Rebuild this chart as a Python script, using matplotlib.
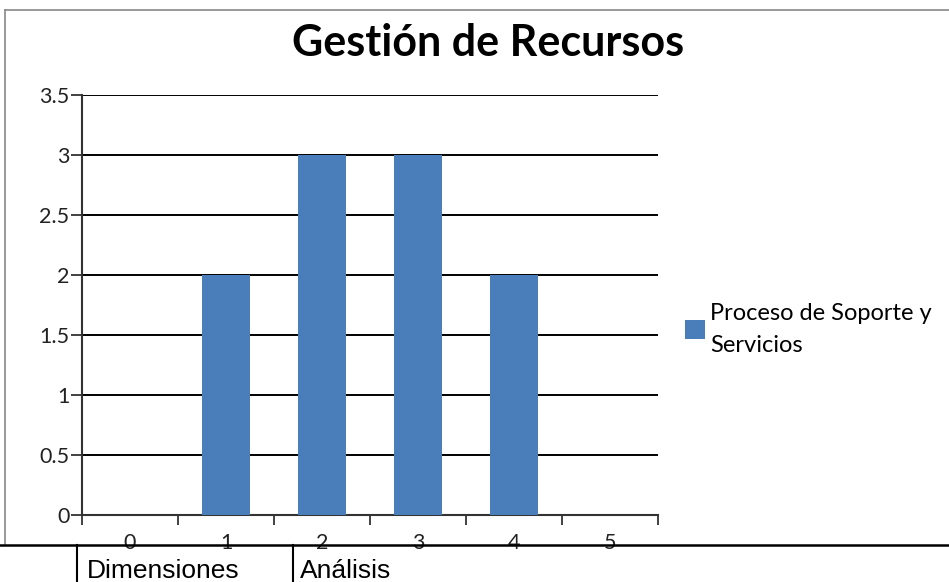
import numpy as np
import matplotlib.pyplot as plt
from matplotlib.lines import Line2D

# data
categories = [0, 1, 2, 3, 4, 5]
values = [0, 2, 3, 3, 2, 0]
series_name = "Proceso de Soporte y\nServicios"
title = "Gestión de Recursos"
y_ticks = [0, 0.5, 1, 1.5, 2, 2.5, 3, 3.5]
y_tick_labels = ["0", "0.5", "1", "1.5", "2", "2.5", "3", "3.5"]
table_cells = ["Dimensiones", "Análisis"]

W, H = 949, 582
fig = plt.figure(figsize=(W / 100, H / 100), dpi=100)
plt.rcParams['font.family'] = ['Lato', 'DejaVu Sans']

def fx(px):
    return px / W

def fy(py):
    return 1 - py / H

ax = fig.add_axes([fx(82), fy(515), fx(658) - fx(82), fy(95) - fy(515)])
bar_color = "#4A7EBB"
bars = ax.bar(categories, values, width=0.5, color=bar_color, zorder=3, label=series_name)

ax.set_xlim(-0.5, 5.5)
ax.set_ylim(0, 3.5)

# tick marks on category boundaries, labels in the middle
ax.set_xticks(np.arange(-0.5, 6.0, 1.0))
ax.set_xticklabels([])
ax.set_xticks(categories, minor=True)
ax.set_xticklabels([str(c) for c in categories], minor=True)
ax.tick_params(axis='x', which='major', length=7, width=1.3, color='#333333', direction='out')
ax.tick_params(axis='x', which='minor', length=0, pad=13, labelsize=15.5, labelcolor='#222222')

ax.set_yticks(y_ticks)
ax.set_yticklabels(y_tick_labels)
ax.tick_params(axis='y', length=8, width=1.3, color='#333333', labelsize=15.5, labelcolor='#222222', pad=1)

ax.grid(axis='y', color='black', linewidth=1.4, zorder=1)
ax.set_axisbelow(True)
for s in ['top', 'right']:
    ax.spines[s].set_visible(False)
ax.spines['left'].set_color('#333333')
ax.spines['left'].set_linewidth(1.5)
ax.spines['bottom'].set_color('#333333')
ax.spines['bottom'].set_linewidth(1.5)

fig.suptitle(title, x=fx(488), y=fy(23), va='top', fontsize=31, fontweight='bold')

leg = fig.legend(handles=[bars], labels=[series_name], loc='upper left',
                 bbox_to_anchor=(fx(685), fy(303)), frameon=False, fontsize=17,
                 handlelength=0.85, handleheight=0.85, handletextpad=0.2,
                 borderpad=0, borderaxespad=0)
leg.get_texts()[0].set_linespacing(1.65)

# chart border (gray)
fig.add_artist(Line2D([fx(5), 1], [fy(10), fy(10)], color='#888888', linewidth=1.2))
fig.add_artist(Line2D([fx(5), fx(5)], [fy(10), fy(545)], color='#888888', linewidth=1.2))

# table fragment below the chart
fig.add_artist(Line2D([0, 1], [fy(545), fy(545)], color='black', linewidth=1.8, zorder=5))
fig.add_artist(Line2D([fx(77), fx(77)], [fy(545), 0], color='black', linewidth=1.5))
fig.add_artist(Line2D([fx(293), fx(293)], [fy(545), 0], color='black', linewidth=1.5))
fig.text(fx(87), fy(578), table_cells[0], family=['Liberation Sans', 'DejaVu Sans'],
         fontsize=19, va='baseline', ha='left')
fig.text(fx(300), fy(578), table_cells[1], family=['Liberation Sans', 'DejaVu Sans'],
         fontsize=19, va='baseline', ha='left')

fig.savefig("out.png", dpi=100)
